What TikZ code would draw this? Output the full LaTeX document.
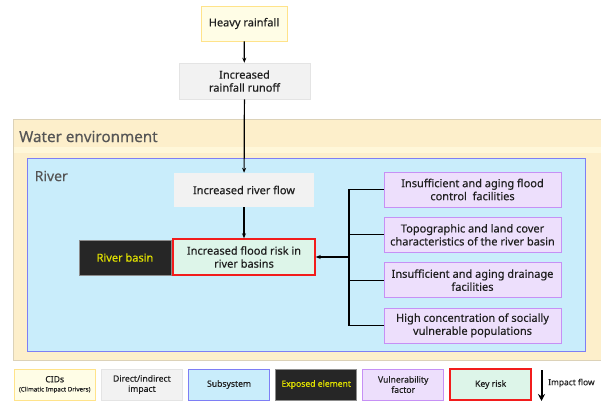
\documentclass[tikz,border=0pt]{standalone}
\usepackage{fontspec}
\setmainfont{Noto Sans}[BoldFont={Noto Sans},BoldFeatures={FakeBold=0.35}]
\usetikzlibrary{
  arrows.meta,
  positioning,  % Function "of" (e.g. [right=of x])
  calc,
}
\definecolor{cidfill}{HTML}{FFFDE6}
\definecolor{ciddraw}{HTML}{FFE38A}
\definecolor{impfill}{HTML}{F2F2F2}
\definecolor{impdraw}{HTML}{E4E4E4}
\definecolor{envfill}{HTML}{FDEFCB}
\definecolor{envstrip}{HTML}{FFF7D9}
\definecolor{envdraw}{HTML}{DCD2B8}
\definecolor{subfill}{HTML}{C9EDFB}
\definecolor{subdraw}{HTML}{7E7EF5}
\definecolor{expfill}{HTML}{262626}
\definecolor{exptext}{HTML}{E2E200}
\definecolor{vulfill}{HTML}{EDDFFC}
\definecolor{vuldraw}{HTML}{C690F5}
\definecolor{riskfill}{HTML}{DDF5E9}
\definecolor{riskdraw}{HTML}{F21C1C}
\definecolor{titletext}{HTML}{565656}
\def\myvuldist{9.5pt}
\def\mylegdist{5.5pt}
\tikzset{
  x=1pt,
  y=-1pt,
  >=Stealth,
  every node/.style={
    font=\bfseries\fontsize{11}{13}\selectfont,
    text=black!88,
    align=center,
    inner sep=0pt
  },
  my box/.style={
    draw,
    line width=0.8pt,
    rectangle
  },
  my cid/.style={
    my box,
    fill=cidfill,
    draw=ciddraw
  },
  my impact/.style={
    my box,
    fill=impfill,
    draw=impdraw,
    line width=0.5pt
  },
  my exposed/.style={
    my box,
    fill=expfill,
    draw=black!45,
    line width=0.5pt,
    text=exptext
  },
  my vul/.style={
    my box,
    fill=vulfill,
    draw=vuldraw,
    minimum width=177pt,
    minimum height=35pt
  },
  my risk/.style={
    my box,
    fill=riskfill,
    draw=riskdraw,
    line width=1.4pt
  },
  my title/.style={
    anchor=west,
    text=titletext
  },
  legend/.style={
    minimum width=81pt,
    minimum height=31pt,
    font=\bfseries\fontsize{8.6}{10.2}\selectfont
  },
  flow/.style={
    ->,
    line width=1.2pt,
    >={Stealth[length=5pt,width=4pt]}
  },
  branch/.style={
    line width=1.2pt
  }
}
\begin{document}
\begin{tikzpicture}
\useasboundingbox (0,0) rectangle (601,402);
% Subsystem frames
\node[fill=envfill,draw=envdraw,line width=0.6pt,minimum width=590pt,minimum height=241pt,anchor=north west] (water) at (13,119) {};
\fill[envstrip] (13.5,147) rectangle (601,153);
\node[fill=subfill,draw=subdraw,line width=1pt,minimum width=558pt,minimum height=193pt,anchor=north west] (river) at (27,158) {};
\node[my title,font=\bfseries\fontsize{15.2}{17}\selectfont] (watert) at (19,136.5) {Water environment};
\node[my title,font=\bfseries\fontsize{14}{16}\selectfont] (rivert) at (34.5,176) {River};

% Impact chain
\node[my cid,minimum width=86pt,minimum height=35pt] (hvy) at (244,23.5) {Heavy rainfall};
\node[my impact,minimum width=131pt,minimum height=36pt] (runoff) at (244.5,81) {Increased\\rainfall runoff};
\node[my impact,draw=none,minimum width=140pt,minimum height=34pt] (flow) at (244,190) {Increased river flow};
\node[my risk,minimum width=142pt,minimum height=36pt] (risk) at (244,257) {Increased flood risk in\\river basins};
\node[my exposed,minimum width=91.5pt,minimum height=35pt] (basin) at (125,257.5) {River basin};

% Vulnerability factors
\node[my vul] (vul1) at (472.5,189.5) {Insufficient and aging flood\\control\ \ facilities};
\node[my vul] (vul2) [below=\myvuldist of vul1] {Topographic and land cover\\characteristics of the river basin};
\node[my vul] (vul3) [below=\myvuldist of vul2] {Insufficient and aging drainage\\facilities};
\node[my vul] (vul4) [below=\myvuldist of vul3] {High concentration of socially\\vulnerable populations};

\path[flow] (hvy) edge (runoff)
            (runoff) edge (flow)
            (flow) edge (risk);

\coordinate (bus) at (349,257);
\draw[branch] (vul1.west) -| (bus |- vul4.west) -- (vul4.west);
\draw[branch] (vul2.west) -- (vul2.west -| bus);
\draw[branch] (vul3.west) -- (vul3.west -| bus);
\draw[flow,line width=1.7pt] (bus) -- (risk.east);

% Legend
\node[my cid,legend] (legcid) at (54.75,384.5) {CIDs\\[-1pt]{\fontsize{6.2}{7}\selectfont (Climatic Impact Drivers)}};
\node[my impact,legend,right=\mylegdist of legcid] (legimp) {Direct/indirect\\impact};
\node[my box,legend,fill=subfill,draw=subdraw] (legsub) [right=\mylegdist of legimp] {Subsystem};
\node[my exposed,legend] (legexp) [right=\mylegdist of legsub] {Exposed element};
\node[my box,legend,fill=vulfill,draw=vuldraw,line width=0.5pt] (legvul) [right=\mylegdist of legexp] {Vulnerability\\factor};
\node[my risk,legend] (legrisk) [right=\mylegdist of legvul] {Key risk};
\coordinate (legtop) at (541.5,370);
\coordinate (legbot) at (541.5,401);
\draw[->,line width=2pt,>={Stealth[length=7pt,width=7pt]}] (legtop) -- (legbot);
\node[anchor=west,font=\bfseries\fontsize{8.4}{10}\selectfont] (legflow) at (548,383) {Impact flow};
\end{tikzpicture}
\end{document}
